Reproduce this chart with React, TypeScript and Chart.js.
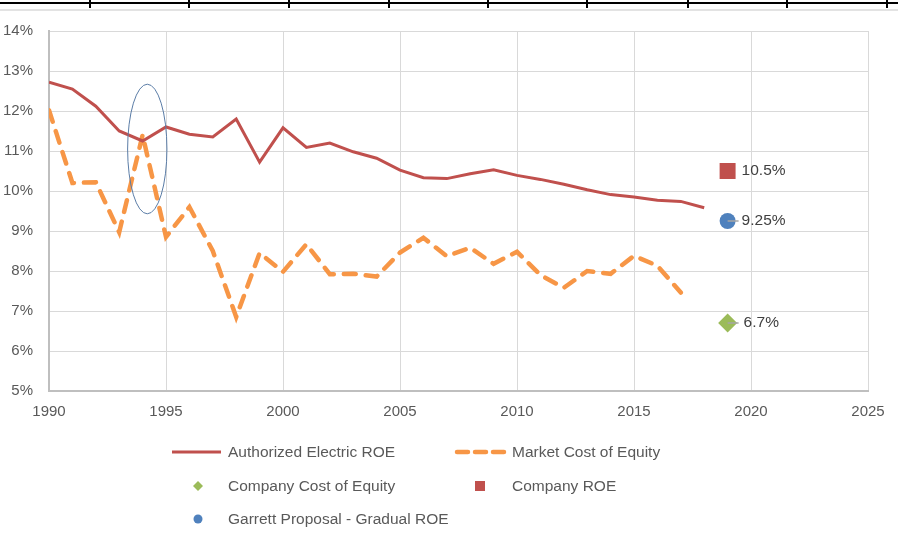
import React, { useEffect, useRef } from "react";
import { Chart, registerables } from "chart.js";

Chart.register(...registerables);

const years: number[] = [
  1990, 1991, 1992, 1993, 1994, 1995, 1996, 1997, 1998, 1999,
  2000, 2001, 2002, 2003, 2004, 2005, 2006, 2007, 2008, 2009,
  2010, 2011, 2012, 2013, 2014, 2015, 2016, 2017, 2018,
];
const authorizedROE: number[] = [
  12.72, 12.55, 12.12, 11.5, 11.25, 11.6, 11.42, 11.35, 11.8, 10.72,
  11.58, 11.09, 11.2, 10.98, 10.82, 10.52, 10.33, 10.31, 10.43, 10.53,
  10.39, 10.29, 10.17, 10.03, 9.91, 9.85, 9.77, 9.74, 9.58,
];
const marketCOE: number[] = [
  12.02, 10.2, 10.22, 8.97, 11.4, 8.85, 9.6, 8.5, 6.85, 8.45,
  7.98, 8.67, 7.92, 7.93, 7.86, 8.46, 8.83, 8.37, 8.58, 8.18,
  8.48, 7.9, 7.58, 8.0, 7.93, 8.38, 8.13, 7.46,
];
const proposalYear = 2019;
const companyCOE = 6.7;
const companyROE = 10.5;
const garrettROE = 9.25;
const pointLabels: string[] = ["6.7%", "10.5%", "9.25%"];
const xTicks = { min: 1990, max: 2025, step: 5 };
const yTicks = { min: 5, max: 14, step: 1 };
// highlighted region (ellipse) in data units
const highlight = { x: 1994.2, y: 11.05, rx: 0.84, ry: 1.62 };

const FONT = "'Liberation Sans', Arial, sans-serif";
const TEXT = "#595959";
const RED = "#C0504D";
const ORANGE = "#F79646";
const GREEN = "#9BBB59";
const BLUE = "#4F81BD";

const seriesPoints = (vals: number[]) => vals.map((v, i) => ({ x: years[i], y: v }));

const annotationPlugin = {
  id: "annot",
  afterDatasetsDraw(chart: any) {
    const ctx = chart.ctx;
    const xs = chart.scales.x;
    const ys = chart.scales.y;
    const cx = xs.getPixelForValue(highlight.x);
    const cy = ys.getPixelForValue(highlight.y);
    const rx = Math.abs(xs.getPixelForValue(highlight.x + highlight.rx) - cx);
    const ry = Math.abs(ys.getPixelForValue(highlight.y + highlight.ry) - cy);
    ctx.save();
    ctx.beginPath();
    ctx.ellipse(cx, cy, rx, ry, 0, 0, Math.PI * 2);
    ctx.strokeStyle = "#5A7CA6";
    ctx.lineWidth = 1;
    ctx.stroke();
    ctx.restore();
    chart.data.datasets.forEach((ds: any, di: number) => {
      if (ds.labelText == null) return;
      const meta = chart.getDatasetMeta(di);
      meta.data.forEach((el: any) => {
        ctx.save();
        if (ds.leader) {
          ctx.beginPath();
          ctx.moveTo(el.x, el.y);
          ctx.lineTo(el.x + 11, el.y);
          ctx.strokeStyle = "#A6A6A6";
          ctx.lineWidth = 1.5;
          ctx.stroke();
        }
        ctx.fillStyle = "#404040";
        ctx.font = `15.5px ${FONT}`;
        ctx.textBaseline = "middle";
        ctx.textAlign = "left";
        ctx.fillText(ds.labelText, el.x + ds.labelOffset, el.y);
        ctx.restore();
      });
    });
  },
};

function ChartView() {
  const ref = useRef<HTMLCanvasElement | null>(null);
  useEffect(() => {
    if (!ref.current) return;
    const chart = new Chart(ref.current, {
      type: "line",
      data: {
        datasets: [
          {
            label: "Authorized Electric ROE",
            data: seriesPoints(authorizedROE),
            borderColor: RED,
            backgroundColor: RED,
            borderWidth: 3,
            pointRadius: 0,
            tension: 0,
            fill: false,
          },
          {
            label: "Market Cost of Equity",
            data: seriesPoints(marketCOE),
            borderColor: ORANGE,
            backgroundColor: ORANGE,
            borderWidth: 4.5,
            borderDash: [12, 10],
            borderCapStyle: "round",
            pointRadius: 0,
            tension: 0,
            fill: false,
          },
          {
            type: "scatter",
            label: "Company Cost of Equity",
            data: [{ x: proposalYear, y: companyCOE }],
            pointStyle: "rectRot",
            pointRadius: 9.5,
            backgroundColor: GREEN,
            borderColor: GREEN,
            borderWidth: 0,
            showLine: false,
            labelText: pointLabels[0],
            labelOffset: 16,
            leader: true,
          } as any,
          {
            type: "scatter",
            label: "Company ROE",
            data: [{ x: proposalYear, y: companyROE }],
            pointStyle: "rect",
            pointRadius: 11.3,
            backgroundColor: RED,
            borderColor: RED,
            borderWidth: 0,
            showLine: false,
            labelText: pointLabels[1],
            labelOffset: 14,
            leader: false,
          } as any,
          {
            type: "scatter",
            label: "Garrett Proposal - Gradual ROE",
            data: [{ x: proposalYear, y: garrettROE }],
            pointStyle: "circle",
            pointRadius: 8,
            backgroundColor: BLUE,
            borderColor: BLUE,
            borderWidth: 0,
            showLine: false,
            labelText: pointLabels[2],
            labelOffset: 14,
            leader: true,
          } as any,
        ],
      },
      options: {
        animation: false,
        responsive: false,
        devicePixelRatio: 1,
        layout: { padding: { left: 0, top: 31, right: 30, bottom: 120 } },
        plugins: { legend: { display: false }, tooltip: { enabled: false } },
        scales: {
          x: {
            type: "linear",
            min: xTicks.min,
            max: xTicks.max,
            afterFit: (s: any) => { s.height = 30; },
            ticks: {
              stepSize: xTicks.step,
              color: TEXT,
              font: { family: FONT, size: 15 },
              padding: 12,
              callback: (v: any) => String(v),
              maxRotation: 0,
            },
            grid: { color: "#D9D9D9", lineWidth: 1, drawTicks: false },
            border: { color: "#BFBFBF", width: 2 },
          },
          y: {
            type: "linear",
            min: yTicks.min,
            max: yTicks.max,
            afterFit: (s: any) => { s.width = 49; },
            ticks: {
              stepSize: yTicks.step,
              color: TEXT,
              font: { family: FONT, size: 15 },
              padding: 16,
              callback: (v: any) => `${v}%`,
            },
            grid: { color: "#D9D9D9", lineWidth: 1, drawTicks: false },
            border: { color: "#BFBFBF", width: 2 },
          },
        },
      } as any,
      plugins: [annotationPlugin],
    });
    return () => chart.destroy();
  }, []);
  return <canvas ref={ref} width={898} height={541} style={{ position: "absolute", left: 0, top: 0 }} />;
}

const tableTicks = [89, 188, 288, 388, 487, 586, 687, 786, 886];

function Legend() {
  const text: React.CSSProperties = {
    position: "absolute",
    fontFamily: FONT,
    fontSize: 15.5,
    color: TEXT,
    lineHeight: "18px",
    whiteSpace: "nowrap",
  };
  return (
    <>
      <svg width={898} height={541} style={{ position: "absolute", left: 0, top: 0 }}>
        <line x1={172} y1={452} x2={221} y2={452} stroke={RED} strokeWidth={3} />
        <line x1={457} y1={452} x2={505} y2={452} stroke={ORANGE} strokeWidth={4.5} strokeDasharray="11 7" strokeLinecap="round" />
        <polygon points="198,481 203,486 198,491 193,486" fill={GREEN} />
        <rect x={475} y={481} width={10} height={10} fill={RED} />
        <circle cx={198} cy={519} r={4.5} fill={BLUE} />
      </svg>
      <span style={{ ...text, left: 228, top: 443 }}>Authorized Electric ROE</span>
      <span style={{ ...text, left: 512, top: 443 }}>Market Cost of Equity</span>
      <span style={{ ...text, left: 228, top: 477 }}>Company Cost of Equity</span>
      <span style={{ ...text, left: 512, top: 477 }}>Company ROE</span>
      <span style={{ ...text, left: 228, top: 510 }}>Garrett Proposal - Gradual ROE</span>
    </>
  );
}

export default function App() {
  return (
    <div style={{ position: "absolute", left: 0, top: 0, width: 898, height: 541, background: "#fff", overflow: "hidden" }}>
      <div style={{ position: "absolute", left: 0, top: 2, width: 898, height: 2, background: "#000" }} />
      {tableTicks.map((x) => (
        <div key={x} style={{ position: "absolute", left: x, top: 0, width: 1.5, height: 8, background: "#000" }} />
      ))}
      <div style={{ position: "absolute", left: 0, top: 9, width: 898, height: 2, background: "#E3E3E3" }} />
      <ChartView />
      <Legend />
    </div>
  );
}
